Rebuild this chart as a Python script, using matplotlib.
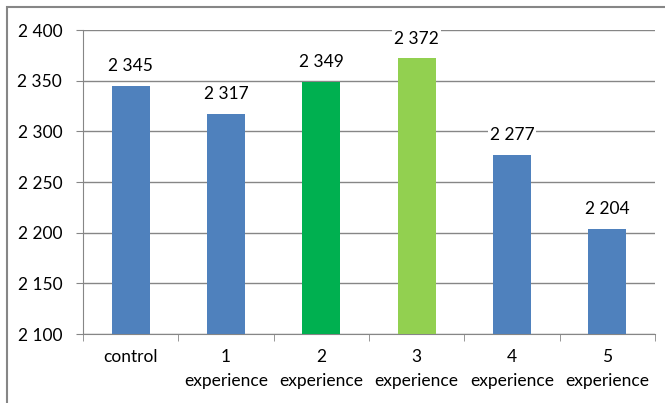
import matplotlib
matplotlib.use("Agg")
import matplotlib.pyplot as plt
from matplotlib.patches import Rectangle

categories = ["control", "1\nexperience", "2\nexperience", "3\nexperience", "4\nexperience", "5\nexperience"]
values = [2345, 2317, 2349, 2372, 2277, 2204]
value_labels = ["2 345", "2 317", "2 349", "2 372", "2 277", "2 204"]
colors = ["#4F81BD", "#4F81BD", "#00B050", "#92D050", "#4F81BD", "#4F81BD"]
yticks = [2100, 2150, 2200, 2250, 2300, 2350, 2400]
ytick_labels = ["2 100", "2 150", "2 200", "2 250", "2 300", "2 350", "2 400"]

plt.rcParams['font.family'] = ['Lato', 'DejaVu Sans']

W, H = 665, 403
fig = plt.figure(figsize=(W / 100, H / 100), dpi=100)
fig.patch.set_facecolor("white")
# outer frame (cropped at right/bottom)
fig.patches.append(Rectangle((7 / W, -0.1), 1.2, 1 - 7 / H + 0.1, transform=fig.transFigure,
                             fill=False, edgecolor="#868686", linewidth=1.5))

ax = fig.add_axes([83 / W, 1 - 334 / H, (655 - 83) / W, (334 - 30) / H])
x = list(range(len(categories)))
ax.bar(x, [v - 2100 for v in values], bottom=2100, width=0.4, color=colors, zorder=3)
ax.set_xlim(-0.5, len(categories) - 0.5)
ax.set_ylim(2100, 2400)
ax.set_yticks(yticks)
ax.set_yticklabels(ytick_labels, fontsize=12.5)
ax.yaxis.grid(True, color="#868686", linewidth=1, zorder=0)
ax.set_axisbelow(True)
ax.set_xticks(x)
ax.set_xticklabels(categories, fontsize=12.5, linespacing=1.6)
ax.tick_params(axis="x", length=0, pad=11)
ax.tick_params(axis="y", length=5, color="#868686", pad=10)
# category boundary ticks
ax.set_xticks([i - 0.5 for i in range(len(categories) + 1)], minor=True)
ax.tick_params(axis="x", which="minor", length=5, color="#868686", direction="out")
for s in ["top", "right"]:
    ax.spines[s].set_visible(False)
for s in ["left", "bottom"]:
    ax.spines[s].set_color("#868686")

for xi, v, lab in zip(x, values, value_labels):
    ax.annotate(lab, (xi, v), xytext=(0, 8.5), textcoords="offset points",
                ha="center", va="bottom", fontsize=12.5,
                bbox=dict(facecolor="white", edgecolor="none", pad=1.5), zorder=4)

fig.savefig("out.png", dpi=100, facecolor="white")
